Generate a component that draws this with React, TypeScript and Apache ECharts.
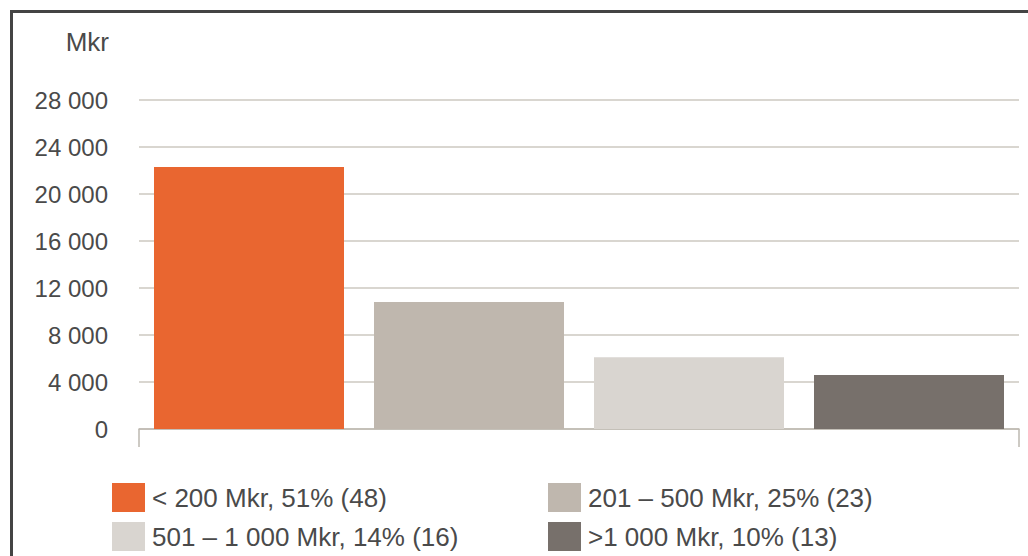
import React, { useEffect, useRef } from "react";
import * as echarts from "echarts";

const categories = [
  "< 200 Mkr, 51% (48)",
  "201 – 500 Mkr, 25% (23)",
  "501 – 1 000 Mkr, 14% (16)",
  ">1 000 Mkr, 10% (13)",
];
const values = [22300, 10800, 6100, 4600];
const colors = ["#E96630", "#BFB7AE", "#D9D5D0", "#77706B"];
const yTicks = { min: 0, max: 28000, interval: 4000 };

const fmt = (v: number) =>
  String(v).replace(/\B(?=(\d{3})+(?!\d))/g, " ");

export default function App() {
  const ref = useRef<HTMLDivElement>(null);
  useEffect(() => {
    if (!ref.current) return;
    const chart = echarts.init(ref.current, null, { renderer: "svg" });
    const textColor = "#4a4a4a";
    const font = "Liberation Sans";
    const legendCommon = {
      orient: "vertical" as const,
      top: 483,
      height: 73,
      padding: 0,
      itemWidth: 33,
      itemHeight: 29,
      itemGap: 10,
      icon: "rect",
      selectedMode: false,
      textStyle: { color: textColor, fontSize: 26, fontFamily: font, lineHeight: 29, padding: [0, 0, 0, 2] },
    };
    chart.setOption({
      animation: false,
      textStyle: { fontFamily: font },
      grid: { left: 139, right: 9, top: 100, bottom: 127 },
      legend: [
        { ...legendCommon, left: 112, data: [categories[0], categories[2]] },
        { ...legendCommon, left: 548, data: [categories[1], categories[3]] },
      ],
      xAxis: {
        type: "category",
        data: categories,
        boundaryGap: true,
        axisLabel: { show: false },
        axisLine: { lineStyle: { color: "#BDB8B0", width: 1.5 } },
        axisTick: { show: true, interval: 3, length: 18, lineStyle: { color: "#BDB8B0", width: 1.5 } },
      },
      yAxis: {
        type: "value",
        min: yTicks.min,
        max: yTicks.max,
        interval: yTicks.interval,
        name: "Mkr",
        nameLocation: "end",
        nameGap: 45,
        nameTextStyle: { color: textColor, fontSize: 26, fontFamily: font, align: "right", padding: [0, 30, 0, 0] },
        axisLine: { show: false },
        axisTick: { show: false },
        axisLabel: { color: textColor, fontSize: 24, fontFamily: font, margin: 31, formatter: (v: number) => fmt(v) },
        splitLine: { lineStyle: { color: "#CCC8C0", width: 1.5 } },
      },
      series: values.map((v, i) => ({
        name: categories[i],
        type: "bar",
        stack: "all",
        barWidth: 190,
        itemStyle: { color: colors[i] },
        data: categories.map((_, j) => (j === i ? v : null)),
      })),
      graphic: [
        { type: "rect", shape: { x: 10, y: 10, width: 1018, height: 3 }, style: { fill: "#444444" } },
        { type: "rect", shape: { x: 10, y: 10, width: 3, height: 546 }, style: { fill: "#444444" } },
      ],
    });
    return () => chart.dispose();
  }, []);
  return (
    <div style={{ position: "fixed", left: 0, top: 0, width: 1028, height: 556, background: "#fff" }}>
      <div ref={ref} style={{ width: 1028, height: 556 }} />
    </div>
  );
}
